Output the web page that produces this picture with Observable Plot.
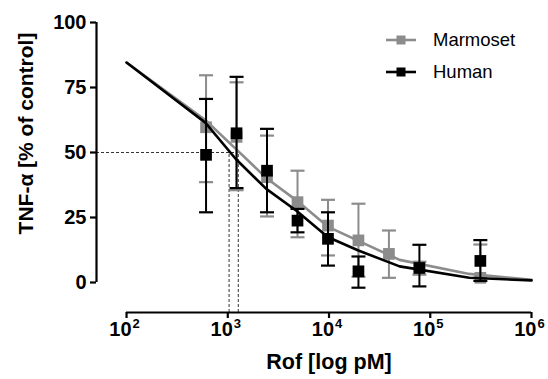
<!DOCTYPE html>
<html>
<head>
<meta charset="utf-8">
<script src="https://cdn.jsdelivr.net/npm/d3@7"></script>
<script src="https://cdn.jsdelivr.net/npm/@observablehq/plot@0.6"></script>
<style>
  html, body { margin: 0; padding: 0; background: #fff; }
  #chart { width: 548px; height: 379px; }
</style>
</head>
<body>
<div id="chart"></div>
<script>
// ---- Data ----
const series = ["Marmoset", "Human"];
const seriesColors = ["#8c8c8c", "#000000"];

const conc = [610, 1221, 2441, 4883, 9766, 19531, 39063, 78125, 312500];

const marmosetMean = [59.7, 56.0, 40.5, 30.9, 21.9, 16.2, 11.0, 5.5, 1.8];
const marmosetLow  = [38.6, 35.5, 25.4, 17.4, 10.4, 2.2, 1.8, 3.0, 1.8];
const marmosetHigh = [79.7, 77.0, 56.5, 43.0, 31.8, 30.3, 20.0, 8.0, 14.6];

const humanMean = [49.1, 57.4, 43.0, 23.8, 16.8, 4.3, null, 5.6, 8.3];
const humanLow  = [27.0, 36.3, 27.0, 19.3, 6.5, -2.0, null, -1.5, 0.6];
const humanHigh = [70.6, 79.1, 59.1, 28.3, 27.0, 10.0, null, 14.5, 16.3];

// fitted curves, read at a few concentrations
const fitConc = [100, 600, 1200, 2400, 4800, 9700, 19500, 49800, 243000, 1000000];
const marmosetFit = [84.6, 62.5, 51.4, 40.2, 31.5, 21.5, 16.0, 8.7, 3.3, 1.0];
const humanFit    = [84.6, 61.5, 47.5, 36.0, 27.5, 17.5, 12.3, 6.2, 1.8, 0.8];

// IC50 values (dashed guides)
const ic50 = [1030, 1270]; // Human, Marmoset
const halfLevel = 50;

const xTicks = [1e2, 1e3, 1e4, 1e5, 1e6];
const yTicks = [0, 25, 50, 75, 100];
const xDomain = [50.5, 1e6];
const yDomain = [-11.54, 100];

const xLabel = "Rof [log pM]";
const yLabel = "TNF-\u03b1 [% of control]";

// ---- Build tables ----
function pts(name, mean, lo, hi) {
  return conc.map((c, i) => ({series: name, x: c, y: mean[i], lo: lo[i], hi: hi[i]}))
             .filter(d => d.y != null);
}
const marmosetPts = pts("Marmoset", marmosetMean, marmosetLow, marmosetHigh);
const humanPts = pts("Human", humanMean, humanLow, humanHigh);
const marmosetCurve = fitConc.map((c, i) => ({x: c, y: marmosetFit[i]}));
const humanCurve = fitConc.map((c, i) => ({x: c, y: humanFit[i]}));

const hline = {
  draw(ctx, size) {
    const r = Math.sqrt(size / Math.PI);
    ctx.moveTo(-r, 0);
    ctx.lineTo(r, 0);
  }
};

function errorMarks(data, color) {
  return [
    Plot.ruleX(data, {x: "x", y1: "lo", y2: "hi", stroke: color, strokeWidth: 2}),
    Plot.dot(data, {x: "x", y: "hi", symbol: hline, r: 7, stroke: color, strokeWidth: 2.2, fill: "none"}),
    Plot.dot(data, {x: "x", y: "lo", symbol: hline, r: 7, stroke: color, strokeWidth: 2.2, fill: "none"})
  ];
}

const font = "'Liberation Sans', Arial, sans-serif";

const svg = Plot.plot({
  width: 548,
  height: 379,
  marginLeft: 96,
  marginRight: 17,
  marginTop: 22,
  marginBottom: 67,
  style: {fontFamily: font, background: "white", overflow: "visible"},
  x: {type: "log", domain: xDomain, axis: null},
  y: {domain: yDomain, axis: null},
  marks: [
    // dashed IC50 guides
    Plot.ruleY([halfLevel], {x1: xDomain[0], x2: d3.max(ic50), stroke: "#333", strokeWidth: 1, strokeDasharray: "3,2"}),
    Plot.ruleX(ic50, {x: d => d, y1: yDomain[0], y2: halfLevel, stroke: "#333", strokeWidth: 1, strokeDasharray: "3,2"}),
    // axes lines
    Plot.ruleX([xDomain[0]], {y1: 0, y2: 100, stroke: "black", strokeWidth: 2.2}),
    Plot.ruleY([yDomain[0]], {x1: xTicks[0], x2: xTicks[xTicks.length - 1], stroke: "black", strokeWidth: 2.2}),
    Plot.axisY({ticks: yTicks, tickSize: 6, tickPadding: 4, strokeWidth: 2.2, fontSize: 20, fontWeight: "bold", label: null}),
    Plot.axisX({ticks: xTicks, tickSize: 6, strokeWidth: 2.2, tickFormat: () => "", label: null}),
    Plot.text(xTicks, {x: d => d, frameAnchor: "bottom", text: () => "10", textAnchor: "end", dx: 5, dy: 23, fontSize: 20, fontWeight: "bold"}),
    Plot.text(xTicks, {x: d => d, frameAnchor: "bottom", text: d => String(Math.round(Math.log10(d))), textAnchor: "start", dx: 6, dy: 15, fontSize: 13, fontWeight: "bold"}),
    Plot.text([xLabel], {x: () => 1e4, frameAnchor: "bottom", textAnchor: "middle", dy: 56, fontSize: 21.5, fontWeight: "bold"}),
    Plot.text([yLabel], {frameAnchor: "left", textAnchor: "middle", dx: -70, dy: -34, rotate: -90, fontSize: 21, fontWeight: "bold"}),
    // Marmoset
    ...errorMarks(marmosetPts, seriesColors[0]),
    Plot.line(marmosetCurve, {x: "x", y: "y", stroke: seriesColors[0], strokeWidth: 2.6}),
    Plot.dot(marmosetPts, {x: "x", y: "y", symbol: "square", r: 6.6, fill: seriesColors[0]}),
    // Human
    ...errorMarks(humanPts, seriesColors[1]),
    Plot.line(humanCurve, {x: "x", y: "y", stroke: seriesColors[1], strokeWidth: 2.6}),
    Plot.dot(humanPts, {x: "x", y: "y", symbol: "square", r: 6.6, fill: seriesColors[1]})
  ]
});

// ---- Legend (inside plot, top-right) ----
const lg = d3.select(svg).append("g").attr("font-family", font).attr("text-anchor", "start");
series.forEach((name, i) => {
  const cy = 40 + i * 32;
  const g = lg.append("g");
  g.append("line").attr("x1", 386).attr("x2", 416).attr("y1", cy).attr("y2", cy)
    .attr("stroke", seriesColors[i]).attr("stroke-width", 2.6);
  g.append("rect").attr("x", 396.5).attr("y", cy - 4.5).attr("width", 9).attr("height", 9)
    .attr("fill", seriesColors[i]);
  g.append("text").attr("x", 433).attr("y", cy).attr("dy", "0.35em")
    .attr("text-anchor", "start")
    .attr("font-size", 18.5).attr("fill", "black").text(name);
});

document.getElementById("chart").appendChild(svg);
</script>
</body>
</html>
